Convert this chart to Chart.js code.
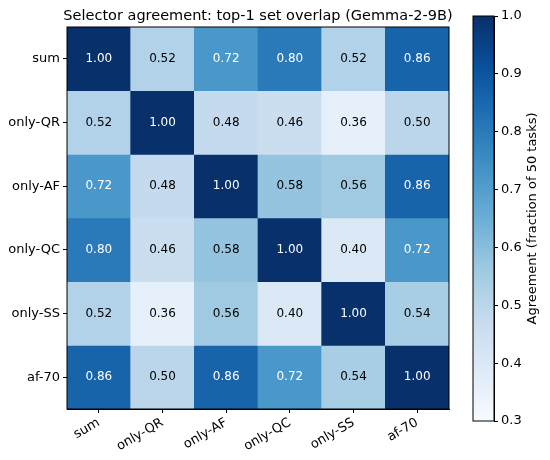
<!DOCTYPE html>
<html>
<head>
<meta charset="utf-8">
<script src="https://cdn.jsdelivr.net/npm/chart.js@4.4.1/dist/chart.umd.min.js"></script>
<style>
  body { margin: 0; background: #fff; }
  #wrap { position: relative; width: 550px; height: 460px; }
  #heat { position: absolute; left: 0; top: 0; }
  #cbar { position: absolute; left: 460px; top: 0; }
</style>
</head>
<body>
<div id="wrap">
  <canvas id="heat" width="460" height="460"></canvas>
  <canvas id="cbar" width="90" height="460"></canvas>
</div>
<script>
const selectors = ["sum", "only-QR", "only-AF", "only-QC", "only-SS", "af-70"];

// one row of the agreement matrix per selector
const agreeSum    = [1.00, 0.52, 0.72, 0.80, 0.52, 0.86];
const agreeOnlyQR = [0.52, 1.00, 0.48, 0.46, 0.36, 0.50];
const agreeOnlyAF = [0.72, 0.48, 1.00, 0.58, 0.56, 0.86];
const agreeOnlyQC = [0.80, 0.46, 0.58, 1.00, 0.40, 0.72];
const agreeOnlySS = [0.52, 0.36, 0.56, 0.40, 1.00, 0.54];
const agreeAf70   = [0.86, 0.50, 0.86, 0.72, 0.54, 1.00];

const colorbarTicks = [0.3, 0.4, 0.5, 0.6, 0.7, 0.8, 0.9, 1.0];
const vmin = 0.3;
const vmax = 1.0;

const rows = [agreeSum, agreeOnlyQR, agreeOnlyAF, agreeOnlyQC, agreeOnlySS, agreeAf70];

// matplotlib "Blues"
const blues = ["#f7fbff", "#deebf7", "#c6dbef", "#9ecae1", "#6baed6",
               "#4292c6", "#2171b5", "#08519c", "#08306b"];

function hexRgb(h) {
    return [1, 3, 5].map(i => parseInt(h.slice(i, i + 2), 16));
}

function blue(v) {
    let t = (v - vmin) / (vmax - vmin);
    t = Math.max(0, Math.min(1, t));
    const pos = t * (blues.length - 1);
    const i = Math.min(blues.length - 2, Math.floor(pos));
    const f = pos - i;
    const a = hexRgb(blues[i]), b = hexRgb(blues[i + 1]);
    const c = a.map((x, k) => Math.round(x + (b[k] - x) * f));
    return `rgb(${c[0]},${c[1]},${c[2]})`;
}

const FONT = "'DejaVu Sans', sans-serif";

const cellText = {
    id: "cellText",
    afterDatasetsDraw(chart) {
        const ctx = chart.ctx;
        ctx.save();
        ctx.font = `12px ${FONT}`;
        ctx.textAlign = "center";
        ctx.textBaseline = "middle";
        chart.data.datasets.forEach((ds, i) => {
            chart.getDatasetMeta(i).data.forEach((bar, j) => {
                const p = bar.getProps(["x", "y", "base"], true);
                const v = ds.values[j];
                ctx.fillStyle = v > 0.65 ? "#ffffff" : "#000000";
                ctx.fillText(v.toFixed(2), p.x, (p.y + p.base) / 2);
            });
        });
        const a = chart.chartArea;
        ctx.strokeStyle = "#000";
        ctx.lineWidth = 1;
        ctx.strokeRect(a.left, a.top, a.right - a.left, a.bottom - a.top);
        ctx.font = `14.5px ${FONT}`;
        ctx.fillStyle = "#000";
        ctx.textBaseline = "alphabetic";
        ctx.fillText("Selector agreement: top-1 set overlap (Gemma-2-9B)", (a.left + a.right) / 2, 20);
        ctx.restore();
    }
};

new Chart(document.getElementById("heat"), {
    type: "bar",
    data: {
        labels: selectors,
        datasets: rows.map((r, i) => ({
            label: selectors[i],
            data: r.map(() => 1),
            values: r,
            backgroundColor: r.map(blue),
            borderWidth: 0,
            barPercentage: 1,
            categoryPercentage: 1
        }))
    },
    options: {
        responsive: false,
        animation: false,
        layout: { padding: { top: 27, right: 11, left: 0, bottom: 0 } },
        plugins: { legend: { display: false }, tooltip: { enabled: false } },
        scales: {
            x: {
                stacked: true,
                grid: { offset: false, drawOnChartArea: false, tickLength: 4, color: "#000" },
                border: { color: "#000" },
                ticks: { color: "#000", font: { family: FONT, size: 13 }, minRotation: 30, maxRotation: 30, padding: 2 },
                afterFit: s => { s.height = 51; }
            },
            y: {
                stacked: true,
                reverse: true,
                min: 0,
                max: selectors.length,
                afterBuildTicks: s => { s.ticks = selectors.map((_, i) => ({ value: i + 0.5 })); },
                grid: { drawOnChartArea: false, tickLength: 4, color: "#000" },
                border: { color: "#000" },
                ticks: { color: "#000", font: { family: FONT, size: 13 }, padding: 3,
                         callback: (v, i) => selectors[i] },
                afterFit: s => { s.width = 67; }
            }
        }
    },
    plugins: [cellText]
});

const cbarFrame = {
    id: "cbarFrame",
    afterDraw(chart) {
        const a = chart.chartArea;
        const ctx = chart.ctx;
        ctx.save();
        ctx.strokeStyle = "#000";
        ctx.lineWidth = 1;
        ctx.strokeRect(a.left, a.top, a.right - a.left, a.bottom - a.top);
        ctx.translate(73, (a.top + a.bottom) / 2);
        ctx.rotate(-Math.PI / 2);
        ctx.font = `13px ${FONT}`;
        ctx.fillStyle = "#000";
        ctx.textAlign = "center";
        ctx.textBaseline = "middle";
        ctx.fillText("Agreement (fraction of 50 tasks)", 0, 0);
        ctx.restore();
    }
};

new Chart(document.getElementById("cbar"), {
    type: "bar",
    data: {
        labels: ["cb"],
        datasets: [{
            data: [[vmin, vmax]],
            borderWidth: 0,
            barPercentage: 1,
            categoryPercentage: 1,
            backgroundColor: c => {
                const y = c.chart.scales.y;
                if (!c.chart.chartArea || !y) return blues[4];
                const g = c.chart.ctx.createLinearGradient(0, y.getPixelForValue(vmin), 0, y.getPixelForValue(vmax));
                blues.forEach((col, i) => g.addColorStop(i / (blues.length - 1), col));
                return g;
            }
        }]
    },
    options: {
        responsive: false,
        animation: false,
        layout: { padding: { top: 16, bottom: 39, left: 13, right: 0 } },
        plugins: { legend: { display: false }, tooltip: { enabled: false } },
        scales: {
            x: { display: false },
            y: {
                position: "right",
                min: vmin,
                max: vmax,
                afterBuildTicks: s => { s.ticks = colorbarTicks.map(v => ({ value: v })); },
                grid: { drawOnChartArea: false, tickLength: 4, color: "#000" },
                border: { color: "#000" },
                ticks: { color: "#000", font: { family: FONT, size: 13 }, padding: 3,
                         callback: v => v.toFixed(1) },
                afterFit: s => { s.width = 56; }
            }
        }
    },
    plugins: [cbarFrame]
});
</script>
</body>
</html>
